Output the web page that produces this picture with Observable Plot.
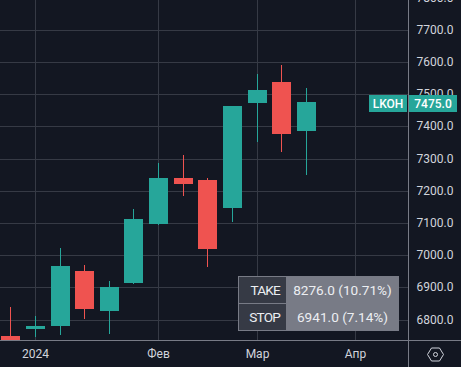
<!DOCTYPE html>
<html><head><meta charset="utf-8">
<script src="https://cdn.jsdelivr.net/npm/d3@7"></script>
<script src="https://cdn.jsdelivr.net/npm/@observablehq/plot@0.6"></script>
<style>
html,body{margin:0;padding:0;background:#131722;overflow:hidden;width:461px;height:367px}
#wrap{position:relative;width:461px;height:367px;font-family:Roboto,sans-serif;color:#d1d4dc}
#wrap svg{display:block;overflow:visible}
.abs{position:absolute;box-sizing:border-box}
.tag{background:#26a69a;color:#fff;font-size:12px;font-weight:500;display:flex;align-items:center;justify-content:center;height:17px}
.cell{font-size:13.6px;display:flex;align-items:center;justify-content:center;color:#eceef2}
.cell.key{justify-content:flex-end;padding-right:6px;letter-spacing:-.8px}
</style></head><body><div id="wrap"></div>
<script>
const dates = ["2023-12-25","2024-01-01","2024-01-08","2024-01-15","2024-01-22","2024-01-29","2024-02-05","2024-02-12","2024-02-19","2024-02-26","2024-03-04","2024-03-11","2024-03-18"];
const opens  = [6750,6771,6781,6951,6827,6914,7097,7240,7234,7147,7473,7538,7386];
const closes = [6720,6781,6967,6833,6902,7113,7240,7221,7020,7463,7513,7376,7475];
const highs  = [6840,6812,7023,6970,6920,7144,7286,7311,7240,7463,7563,7590,7519];
const lows   = [6700,6746,6753,6802,6756,6911,7094,7184,6964,7103,7352,7320,7249];
const yTicks = [6800,6900,7000,7100,7200,7300,7400,7500,7600,7700,7800];
const monthTicks = ["2024-01-01","2024-02-05","2024-03-04","2024-04-01"];
const monthLabels = ["2024","Фев","Мар","Апр"];
const symbol = "LKOH", lastPrice = 7475;
const risk = [["TAKE","8276.0 (10.71%)"],["STOP","6941.0 (7.14%)"]];

const UP="#26a69a", DOWN="#ef5350", GRID="#363a45", BG="#131722";
const candles = dates.map((d,i)=>({date:new Date(d),open:opens[i],close:closes[i],high:highs[i],low:lows[i]}));
const monthDates = monthTicks.map(d=>new Date(d));
const H = 3600e3;

const plot = Plot.plot({
  width:461,height:367,marginLeft:0,marginTop:0,marginRight:53,marginBottom:27,
  style:{background:BG,color:"#d1d4dc",fontFamily:"Roboto,sans-serif",fontSize:"12px",overflow:"visible"},
  x:{type:"utc",round:true,domain:[new Date("2023-12-22T01:12Z"),new Date("2024-04-16T01:12Z")]},
  y:{round:true,domain:[6736.5,7800],range:[340,-2.45]},
  marks:[
    Plot.gridX(monthDates,{stroke:GRID,strokeOpacity:1}),
    Plot.gridY(yTicks,{stroke:GRID,strokeOpacity:1}),
    Plot.ruleX(candles,{x:"date",y1:"low",y2:"high",stroke:d=>d.close>=d.open?UP:DOWN,strokeWidth:1,clip:true}),
    Plot.rect(candles,{x1:d=>new Date(+d.date-61.4*H),x2:d=>new Date(+d.date+68.2*H),y1:"open",y2:"close",fill:d=>d.close>=d.open?UP:DOWN,clip:true}),
    Plot.axisY({anchor:"right",ticks:yTicks,tickSize:0,tickPadding:8,tickFormat:d=>d.toFixed(1),label:null,fill:"#d1d4dc"}),
    Plot.axisX({ticks:monthDates,tickSize:0,tickPadding:9,tickFormat:d=>monthLabels[monthDates.findIndex(m=>+m===+d)],label:null,fill:"#d1d4dc"})
  ]
});
const wrap=document.getElementById("wrap");
wrap.appendChild(plot);
function add(css,cls,html){const e=document.createElement("div");e.className="abs "+(cls||"");e.style.cssText=css;if(html!=null)e.innerHTML=html;wrap.appendChild(e);return e;}
// axis borders
add("left:0;top:340px;width:461px;height:1px;background:#787b86");
add("left:408px;top:0;width:1px;height:367px;background:#787b86");
// last-price tags
const py=plot.scale("y").apply(lastPrice);
add(`left:369px;top:${Math.round(py-7)}px;width:38px`,"tag",symbol);
add(`left:409px;top:${Math.round(py-7)}px;width:48px`,"tag",lastPrice.toFixed(1));
// take / stop table
add("left:238px;top:276px;width:161px;height:55px;background:#787b86");
risk.forEach((r,i)=>{
  const top=276+i*27;
  add(`left:239px;top:${top+1}px;width:47px;height:26px;background:#363a45`,"cell key",r[0]);
  add(`left:286px;top:${top+1}px;width:113px;height:26px`,"cell",r[1]);
});
// settings icon
add("left:426px;top:345px;width:19px;height:19px",null,'<svg width="19" height="19" viewBox="0 0 19 19"><path d="M5.5 3h8l4 6.5-4 6.5h-8l-4-6.5z" fill="none" stroke="#d1d4dc"/><circle cx="9.5" cy="9.5" r="2" fill="none" stroke="#d1d4dc"/></svg>');
</script></body></html>
